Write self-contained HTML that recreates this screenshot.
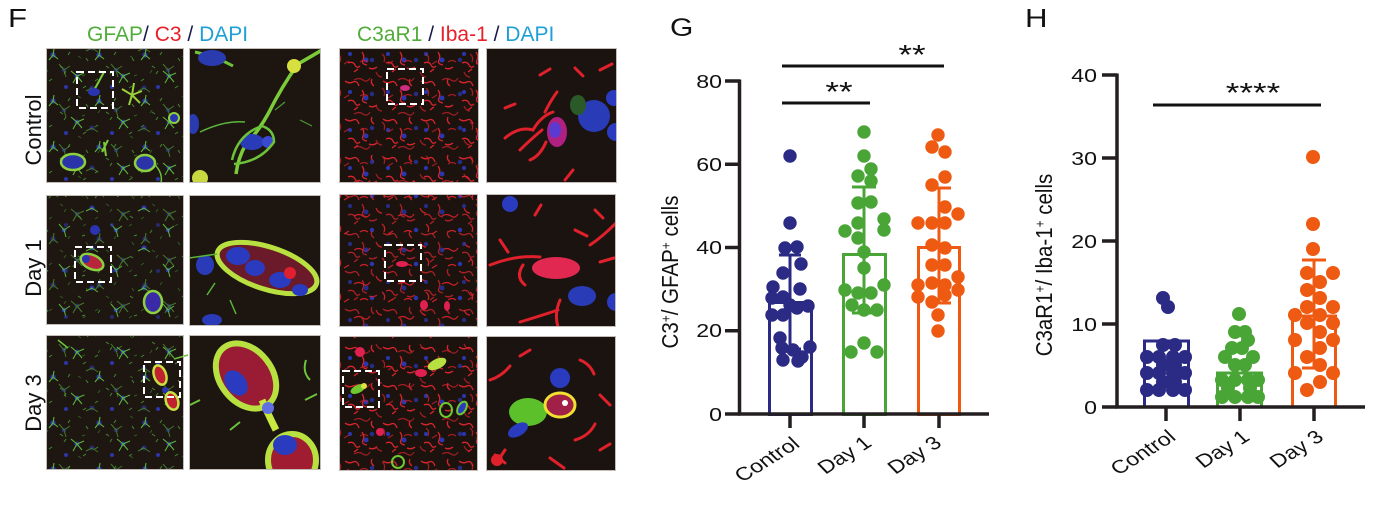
<!DOCTYPE html>
<html><head><meta charset="utf-8"><style>
html,body{margin:0;padding:0;background:#fff;}
svg{display:block;}
text{font-family:"Liberation Sans",Arial,sans-serif;}
</style></head><body>
<svg width="1382" height="506" viewBox="0 0 1382 506" xmlns="http://www.w3.org/2000/svg">
<defs>
<pattern id="astro" width="46" height="46" patternUnits="userSpaceOnUse">
<circle cx="7" cy="9" r="2.6" fill="#2c36a8"/><circle cx="31" cy="30" r="2.4" fill="#2c36a8"/><circle cx="20" cy="41" r="2" fill="#2c36a8"/>
<path d="M31 30 l-6 -5 M31 30 l7 -3 M31 30 l5 6 M31 30 l-4 7 M7 9 l5 4 M7 9 l-4 5 M7 9 l1 -6" stroke="#5ab53a" stroke-width="1.1" fill="none"/>
<path d="M14 20 l3 2 M40 12 l2 3 M24 6 l-2 3 M3 35 l3 -2 M40 40 l-3 2 M18 28 l2 -3" stroke="#3f8a32" stroke-width="1" fill="none"/>
</pattern>
<pattern id="astro2" width="52" height="40" patternUnits="userSpaceOnUse">
<circle cx="40" cy="8" r="2.5" fill="#2c36a8"/><circle cx="12" cy="30" r="2.3" fill="#2c36a8"/>
<path d="M12 30 l-5 -6 M12 30 l6 -4 M12 30 l2 7 M40 8 l6 4 M40 8 l-6 3" stroke="#5ab53a" stroke-width="1" fill="none"/>
<path d="M26 16 l3 2 M48 30 l-2 3 M30 36 l3 -1" stroke="#3f8a32" stroke-width="1" fill="none"/>
</pattern>
<pattern id="micro" width="38" height="38" patternUnits="userSpaceOnUse">
<path d="M3 5 q4 3 8 1 t6 4 M20 14 q3 4 1 8 t4 5 M30 3 q-2 4 2 7 M6 25 q5 -2 7 2 t5 1 M27 30 q4 2 8 -1 M12 34 l4 -3" stroke="#d8242c" stroke-width="1.3" fill="none"/>
<circle cx="24" cy="22" r="2.5" fill="#2a36b0"/><circle cx="8" cy="16" r="2" fill="#2a36b0"/>
</pattern>
<pattern id="micro2" width="44" height="34" patternUnits="userSpaceOnUse">
<path d="M2 12 q5 -3 9 0 t7 -2 M24 4 q2 5 6 5 M30 20 q4 3 2 8 M8 28 q4 -3 8 0 M36 30 l5 -3" stroke="#cc2028" stroke-width="1.2" fill="none"/>
<circle cx="20" cy="26" r="2.2" fill="#2a36b0"/>
</pattern>
<clipPath id="c12"><rect x="189" y="48" width="132" height="135"/></clipPath>
<clipPath id="c22"><rect x="189" y="195" width="132" height="131"/></clipPath>
<clipPath id="c32"><rect x="189" y="335" width="132" height="135"/></clipPath>
<clipPath id="c14"><rect x="486" y="48" width="131" height="135"/></clipPath>
<clipPath id="c24"><rect x="486" y="194" width="130" height="133"/></clipPath>
<clipPath id="c34"><rect x="486" y="336" width="130" height="135"/></clipPath>
</defs>

<!-- Panel F labels -->
<text transform="translate(8,27) scale(1.2,1)" font-size="26" fill="#111">F</text>
<text x="87" y="41" font-size="21"><tspan fill="#52ac3a">GFAP</tspan><tspan fill="#1a1a4a">/ </tspan><tspan fill="#e8202a">C3</tspan><tspan fill="#1a1a4a"> / </tspan><tspan fill="#1ea0d6">DAPI</tspan></text>
<text x="357" y="41" font-size="21"><tspan fill="#52ac3a">C3aR1</tspan><tspan fill="#1a1a4a"> / </tspan><tspan fill="#e8202a">Iba-1</tspan><tspan fill="#1a1a4a"> / </tspan><tspan fill="#1ea0d6">DAPI</tspan></text>
<text transform="translate(41,130) rotate(-90)" text-anchor="middle" font-size="22" fill="#111">Control</text>
<text transform="translate(41,268) rotate(-90)" text-anchor="middle" font-size="22" fill="#111">Day 1</text>
<text transform="translate(41,403) rotate(-90)" text-anchor="middle" font-size="22" fill="#111">Day 3</text>

<!-- Column 1 panels -->
<g>
<rect x="46" y="48" width="138" height="135" fill="#1e1610"/>
<rect x="46" y="48" width="138" height="135" fill="url(#astro)"/>
<rect x="46" y="48" width="138" height="135" fill="url(#astro2)" opacity="0.6"/>
<rect x="46" y="195" width="138" height="130" fill="#1e1610"/>
<rect x="46" y="195" width="138" height="130" fill="url(#astro2)"/>
<rect x="46" y="195" width="138" height="130" fill="url(#astro)" opacity="0.6"/>
<rect x="46" y="335" width="138" height="135" fill="#1e1610"/>
<rect x="46" y="335" width="138" height="135" fill="url(#astro)"/>
<rect x="46" y="335" width="138" height="135" fill="url(#astro2)" opacity="0.6"/>
<ellipse cx="73" cy="162" rx="12" ry="8" fill="#2a34a8" stroke="#8cd040" stroke-width="2.5"/>
<ellipse cx="145" cy="163" rx="10" ry="8" fill="#2a34a8" stroke="#8cd040" stroke-width="2.5"/>
<path d="M155 165 q8 8 6 18" stroke="#6cc23a" stroke-width="1.5" fill="none"/>
<path d="M132 95 l-10 -6 M132 95 l10 -4 M132 95 l-3 10 M132 95 l8 8 M132 95 l2 -12" stroke="#9ad03a" stroke-width="2"/>
<path d="M92 94 l12 -22" stroke="#7ccc3a" stroke-width="2"/>
<ellipse cx="94" cy="92" rx="6" ry="4" fill="#2a34b0"/>
<circle cx="174" cy="118" r="5" fill="#2a34b0" stroke="#8cd040" stroke-width="2"/>
<path d="M104 142 l2 14 M108 140 l-6 12" stroke="#7ccc3a" stroke-width="2"/>
<ellipse cx="92" cy="262" rx="12" ry="7" fill="#b8243a" stroke="#8cd040" stroke-width="2.5" transform="rotate(25 92 262)"/>
<circle cx="86" cy="259" r="4" fill="#2a34b0"/>
<ellipse cx="153" cy="302" rx="9" ry="11" fill="#3a2aa8" stroke="#8cd040" stroke-width="2.5"/>
<circle cx="95" cy="230" r="5" fill="#2a34b0"/>
<ellipse cx="160" cy="375" rx="6" ry="10" fill="#c02030" stroke="#c8e040" stroke-width="2.5" transform="rotate(-20 160 375)"/>
<ellipse cx="172" cy="401" rx="6" ry="9" fill="#c02030" stroke="#c8e040" stroke-width="2.5" transform="rotate(-20 172 401)"/>
<circle cx="165" cy="390" r="3" fill="#2a34b0"/>
<path d="M188 355 l-14 4 M58 340 l10 8" stroke="#6cc23a" stroke-width="1.5"/>
<rect x="46.5" y="48.5" width="137" height="134" fill="none" stroke="#c4bcb6" stroke-width="1"/>
<rect x="46.5" y="195.5" width="137" height="129" fill="none" stroke="#c4bcb6" stroke-width="1"/>
<rect x="46.5" y="335.5" width="137" height="134" fill="none" stroke="#c4bcb6" stroke-width="1"/>
<g fill="none" stroke="#fff" stroke-width="2" stroke-dasharray="7 4">
<rect x="77" y="72" width="36" height="36"/>
<rect x="75" y="247" width="36" height="35"/>
<rect x="144" y="362" width="36" height="35"/>
</g>
</g>

<!-- Column 2 panels (zoom GFAP) -->
<g>
<rect x="189" y="48" width="132" height="135" fill="#1c1510"/>
<g clip-path="url(#c12)">
<path d="M195 52 q20 4 38 14" stroke="#70c43a" stroke-width="3" fill="none"/>
<ellipse cx="212" cy="58" rx="14" ry="8" fill="#2a3bb0"/>
<path d="M322 50 q-10 6 -24 14 q-16 22 -30 50 q-10 18 -22 30 q-8 14 -10 30" stroke="#7ccc3a" stroke-width="3.5" fill="none"/>
<circle cx="294" cy="66" r="7" fill="#d8e040"/>
<ellipse cx="252" cy="142" rx="12" ry="8" fill="#2a3bb8"/>
<circle cx="268" cy="142" r="6" fill="#3a4ad0"/>
<path d="M232 160 q6 -26 30 -34 q12 4 12 16 q-14 20 -40 22" stroke="#6cc23a" stroke-width="2.5" fill="none"/>
<path d="M245 122 q-20 -2 -45 10" stroke="#5ab53a" stroke-width="1.5" fill="none"/>
<circle cx="200" cy="178" r="8" fill="#c8d840"/>
<ellipse cx="193" cy="124" rx="6" ry="10" fill="#2a3bb0"/>
<path d="M275 110 l10 -8 M300 120 l12 6" stroke="#4a9a34" stroke-width="1.2"/>
</g>
<rect x="189" y="195" width="132" height="131" fill="#1c1510"/>
<g clip-path="url(#c22)">
<ellipse cx="267" cy="268" rx="52" ry="21" fill="#6a1a28" stroke="#b8e040" stroke-width="5" transform="rotate(18 267 268)"/>
<ellipse cx="238" cy="256" rx="12" ry="9" fill="#2a3bc0"/>
<ellipse cx="255" cy="268" rx="10" ry="8" fill="#2a3bc0"/>
<ellipse cx="280" cy="280" rx="11" ry="8" fill="#2a3bc0"/>
<ellipse cx="300" cy="290" rx="8" ry="6" fill="#2a3bc0"/>
<circle cx="290" cy="273" r="6" fill="#e02030"/>
<ellipse cx="205" cy="265" rx="9" ry="10" fill="#2a3bb8"/>
<ellipse cx="212" cy="320" rx="10" ry="6" fill="#2a3bb8"/>
<path d="M189 258 l28 -4 M215 283 l-8 12 M230 300 l6 14" stroke="#5ab53a" stroke-width="1.5"/>
</g>
<rect x="189" y="335" width="132" height="135" fill="#1c1510"/>
<g clip-path="url(#c32)">
<ellipse cx="246" cy="376" rx="26" ry="36" fill="#9a1c34" stroke="#b8e040" stroke-width="6" transform="rotate(-38 246 376)"/>
<ellipse cx="236" cy="383" rx="10" ry="14" fill="#2a3bc0" transform="rotate(-38 236 383)"/>
<path d="M262 400 q6 14 14 30" stroke="#c8e840" stroke-width="7" fill="none"/>
<circle cx="268" cy="408" r="6" fill="#6070e0"/>
<ellipse cx="292" cy="460" rx="24" ry="26" fill="#a01c30" stroke="#b8e040" stroke-width="6"/>
<ellipse cx="285" cy="445" rx="12" ry="10" fill="#2a3bc0"/>
<path d="M310 380 q-8 -8 -4 -20 M305 400 l12 -6 M200 400 l-10 5 M230 430 l10 -8" stroke="#6cc23a" stroke-width="2" fill="none"/>
</g>
<rect x="189.5" y="48.5" width="131" height="134" fill="none" stroke="#c4bcb6" stroke-width="1"/>
<rect x="189.5" y="195.5" width="131" height="130" fill="none" stroke="#c4bcb6" stroke-width="1"/>
<rect x="189.5" y="335.5" width="131" height="134" fill="none" stroke="#c4bcb6" stroke-width="1"/>
</g>

<!-- Column 3 panels -->
<g>
<rect x="339" y="48" width="140" height="135" fill="#1c130f"/>
<rect x="339" y="48" width="140" height="135" fill="url(#micro)"/>
<rect x="339" y="48" width="140" height="135" fill="url(#micro2)" opacity="0.75"/>
<rect x="339" y="194" width="139" height="133" fill="#1c130f"/>
<rect x="339" y="194" width="139" height="133" fill="url(#micro2)"/>
<rect x="339" y="194" width="139" height="133" fill="url(#micro)" opacity="0.75"/>
<rect x="339" y="336" width="139" height="135" fill="#1c130f"/>
<rect x="339" y="336" width="139" height="135" fill="url(#micro)"/>
<rect x="339" y="336" width="139" height="135" fill="url(#micro2)" opacity="0.75"/>
<ellipse cx="405" cy="88" rx="5" ry="3" fill="#d02c80"/>
<ellipse cx="402" cy="264" rx="6" ry="3" fill="#e02050"/>
<ellipse cx="424" cy="305" rx="4" ry="5" fill="#e02050"/>
<ellipse cx="447" cy="306" rx="3" ry="5" fill="#e02050"/>
<ellipse cx="437" cy="364" rx="10" ry="5" fill="#b8e040" transform="rotate(-25 437 364)"/>
<ellipse cx="421" cy="373" rx="6" ry="4" fill="#e02050"/>
<ellipse cx="358" cy="389" rx="8" ry="4" fill="#70c830" transform="rotate(-25 358 389)"/>
<circle cx="364" cy="386" r="3" fill="#e0e040"/>
<circle cx="360" cy="352" r="5" fill="#e02050"/>
<ellipse cx="446" cy="410" rx="6" ry="7" fill="none" stroke="#70c830" stroke-width="2"/>
<ellipse cx="462" cy="408" rx="4" ry="7" fill="#2a3bc0" stroke="#70c830" stroke-width="2" transform="rotate(30 462 408)"/>
<circle cx="398" cy="462" r="6" fill="none" stroke="#70c830" stroke-width="2"/>
<circle cx="380" cy="432" r="4" fill="#e02050"/>
<rect x="339.5" y="48.5" width="139" height="134" fill="none" stroke="#c4bcb6" stroke-width="1"/>
<rect x="339.5" y="194.5" width="138" height="132" fill="none" stroke="#c4bcb6" stroke-width="1"/>
<rect x="339.5" y="336.5" width="138" height="134" fill="none" stroke="#c4bcb6" stroke-width="1"/>
<g fill="none" stroke="#fff" stroke-width="2" stroke-dasharray="7 4">
<rect x="387" y="69" width="36" height="35"/>
<rect x="385" y="245" width="36" height="36"/>
<rect x="343" y="371" width="36" height="36"/>
</g>
</g>

<!-- Column 4 panels (zoom microglia) -->
<g>
<rect x="486" y="48" width="131" height="135" fill="#1b1310"/>
<g clip-path="url(#c14)" fill="none" stroke="#e0202a" stroke-linecap="round">
<path d="M505 138 q14 -12 28 -8 q8 -14 20 -18 M520 150 q10 -10 22 -20 M530 160 q10 -4 16 -18 M545 112 q6 -12 12 -20 M540 75 l10 -6 M575 68 l8 8 M600 70 l12 -6 M565 180 l8 -10 M505 108 l10 -4" stroke-width="3"/>
<ellipse cx="557" cy="132" rx="10" ry="15" fill="#b02080" stroke="none"/>
<ellipse cx="555" cy="130" rx="6" ry="8" fill="#5a3ad0" stroke="none"/>
<circle cx="594" cy="116" r="16" fill="#2a3bb8" stroke="none"/>
<circle cx="616" cy="132" r="9" fill="#2a3bc0" stroke="none"/>
<circle cx="614" cy="98" r="8" fill="#2a3bc0" stroke="none"/>
<ellipse cx="578" cy="105" rx="8" ry="10" fill="#2a5a28" stroke="none"/>
</g>
<rect x="486" y="194" width="130" height="133" fill="#1b1310"/>
<g clip-path="url(#c24)" fill="none" stroke="#e0202a" stroke-linecap="round">
<circle cx="510" cy="204" r="8" fill="#2a3bc0" stroke="none"/>
<ellipse cx="582" cy="296" rx="14" ry="10" fill="#2a3bb8" stroke="none"/>
<circle cx="616" cy="302" r="9" fill="#2a3bc0" stroke="none"/>
<ellipse cx="556" cy="268" rx="24" ry="11" fill="#e02850" stroke="none"/>
<path d="M490 265 q25 -10 50 -8 M525 285 q-10 -8 -2 -20 M590 245 q12 -8 26 -22 M520 322 q20 -6 38 -12 M560 300 q-6 14 -2 27 M575 230 l12 6 M535 215 l6 -10 M595 210 l8 8 M500 240 l8 12 M600 262 l14 -4" stroke-width="3"/>
</g>
<rect x="486" y="336" width="130" height="135" fill="#1b1310"/>
<g clip-path="url(#c34)" fill="none" stroke="#e0202a" stroke-linecap="round">
<circle cx="560" cy="378" r="10" fill="#2a3bc0" stroke="none"/>
<ellipse cx="528" cy="412" rx="19" ry="14" fill="#5cc02a" stroke="none"/>
<ellipse cx="560" cy="405" rx="15" ry="12" fill="#a02048" stroke="#f0e030" stroke-width="3"/>
<circle cx="565" cy="403" r="3" fill="#fff" stroke="none"/>
<ellipse cx="518" cy="430" rx="11" ry="6" fill="#2a3bc0" stroke="none" transform="rotate(-30 518 430)"/>
<path d="M490 380 q12 -4 20 -14 M580 360 q10 4 14 14 M600 395 l10 10 M575 440 q14 -4 20 -16 M495 455 l10 8 M505 450 l-8 12 M550 458 l14 10 M600 450 l10 -6 M520 356 l10 -6" stroke-width="3"/>
<circle cx="497" cy="460" r="6" fill="#e0202a" stroke="none"/>
</g>
<rect x="486.5" y="48.5" width="130" height="134" fill="none" stroke="#c4bcb6" stroke-width="1"/>
<rect x="486.5" y="194.5" width="129" height="132" fill="none" stroke="#c4bcb6" stroke-width="1"/>
<rect x="486.5" y="336.5" width="129" height="134" fill="none" stroke="#c4bcb6" stroke-width="1"/>
</g>

<!-- ===== Chart G ===== -->
<text transform="translate(670,36) scale(1.2,1)" font-size="25" fill="#111">G</text>
<g fill="#111" font-size="18.5" text-anchor="end">
<text transform="translate(722,88) scale(1.25,1)">80</text>
<text transform="translate(722,171) scale(1.25,1)">60</text>
<text transform="translate(722,254) scale(1.25,1)">40</text>
<text transform="translate(722,337) scale(1.25,1)">20</text>
<text transform="translate(722,421) scale(1.25,1)">0</text>
</g>
<text transform="translate(678,272) scale(1.12,1) rotate(-90)" text-anchor="middle" font-size="20.5" fill="#111">C3<tspan baseline-shift="super" font-size="12">+</tspan>/ GFAP<tspan baseline-shift="super" font-size="12">+</tspan> cells</text>
<g fill="#fff" stroke-width="3">
<rect x="769.5" y="302.5" width="42" height="112" stroke="#2b2a84"/>
<rect x="843.5" y="254.5" width="42" height="160" stroke="#4aa537"/>
<rect x="918.5" y="247.5" width="41" height="167" stroke="#ee5a12"/>
</g>
<g stroke-width="3">
<path d="M790 255 V349 M779 255 H801 M779 349 H801" stroke="#2b2a84"/>
<path d="M864 187 V313 M852 187 H876 M852 313 H876" stroke="#4aa537"/>
<path d="M939 188 V303 M927 188 H951 M927 303 H951" stroke="#ee5a12"/>
</g>
<g fill="#2b2a84">
<circle cx="790" cy="156" r="6.7"/><circle cx="790" cy="223" r="6.7"/><circle cx="785" cy="248" r="6.7"/><circle cx="797" cy="247" r="6.7"/><circle cx="801" cy="264" r="6.7"/><circle cx="783" cy="273" r="6.7"/><circle cx="773" cy="287" r="6.7"/><circle cx="800" cy="289" r="6.7"/><circle cx="772" cy="298" r="6.7"/><circle cx="783" cy="297" r="6.7"/><circle cx="808" cy="306" r="6.7"/><circle cx="797" cy="308" r="6.7"/><circle cx="772" cy="315" r="6.7"/><circle cx="783" cy="315" r="6.7"/><circle cx="790" cy="305" r="6.7"/><circle cx="780" cy="338" r="6.7"/><circle cx="782" cy="348" r="6.7"/><circle cx="793" cy="350" r="6.7"/><circle cx="810" cy="347" r="6.7"/><circle cx="802" cy="357" r="6.7"/><circle cx="783" cy="360" r="6.7"/><circle cx="798" cy="361" r="6.7"/>
</g>
<g fill="#4aa537">
<circle cx="864" cy="132" r="6.7"/><circle cx="864" cy="156" r="6.7"/><circle cx="871" cy="169" r="6.7"/><circle cx="858" cy="176" r="6.7"/><circle cx="871" cy="181" r="6.7"/><circle cx="858" cy="203" r="6.7"/><circle cx="871" cy="202" r="6.7"/><circle cx="858" cy="223" r="6.7"/><circle cx="884" cy="219" r="6.7"/><circle cx="884" cy="230" r="6.7"/><circle cx="845" cy="231" r="6.7"/><circle cx="858" cy="238" r="6.7"/><circle cx="864" cy="252" r="6.7"/><circle cx="864" cy="268" r="6.7"/><circle cx="845" cy="290" r="6.7"/><circle cx="884" cy="285" r="6.7"/><circle cx="858" cy="293" r="6.7"/><circle cx="871" cy="293" r="6.7"/><circle cx="852" cy="305" r="6.7"/><circle cx="864" cy="310" r="6.7"/><circle cx="877" cy="310" r="6.7"/><circle cx="864" cy="343" r="6.7"/><circle cx="851" cy="352" r="6.7"/><circle cx="877" cy="352" r="6.7"/>
</g>
<g fill="#ee5a12">
<circle cx="938" cy="135" r="6.7"/><circle cx="932" cy="147" r="6.7"/><circle cx="945" cy="152" r="6.7"/><circle cx="945" cy="177" r="6.7"/><circle cx="932" cy="185" r="6.7"/><circle cx="945" cy="207" r="6.7"/><circle cx="958" cy="214" r="6.7"/><circle cx="918" cy="223" r="6.7"/><circle cx="932" cy="223" r="6.7"/><circle cx="945" cy="223" r="6.7"/><circle cx="932" cy="245" r="6.7"/><circle cx="945" cy="248" r="6.7"/><circle cx="932" cy="265" r="6.7"/><circle cx="945" cy="265" r="6.7"/><circle cx="918" cy="285" r="6.7"/><circle cx="932" cy="283" r="6.7"/><circle cx="945" cy="285" r="6.7"/><circle cx="958" cy="277" r="6.7"/><circle cx="958" cy="290" r="6.7"/><circle cx="918" cy="297" r="6.7"/><circle cx="945" cy="295" r="6.7"/><circle cx="932" cy="302" r="6.7"/><circle cx="938" cy="315" r="6.7"/><circle cx="938" cy="331" r="6.7"/>
</g>
<g stroke="#231f20" stroke-width="3.5" fill="none">
<path d="M739.5 79.5 V415.5 M738 414 H989"/>
<path d="M725 81 H740 M725 164.25 H740 M725 247.5 H740 M725 330.75 H740 M725 414 H740"/>
<path d="M790 414 V428 M864 414 V428 M939 414 V428"/>
</g>
<g stroke="#111" stroke-width="3">
<path d="M782 66 H944 M782 103 H870"/>
</g>
<g fill="#111" font-size="28" text-anchor="middle">
<text transform="translate(912,64) scale(1.25,1)">**</text>
<text transform="translate(839,101) scale(1.25,1)">**</text>
</g>
<g fill="#111" font-size="18.5" text-anchor="end">
<text transform="translate(801,446) scale(1.25,1) rotate(-38)">Control</text>
<text transform="translate(873,445) scale(1.25,1) rotate(-38)">Day 1</text>
<text transform="translate(943,445) scale(1.25,1) rotate(-38)">Day 3</text>
</g>

<!-- ===== Chart H ===== -->
<text transform="translate(1025,27) scale(1.2,1)" font-size="26" fill="#111">H</text>
<g fill="#111" font-size="18.5" text-anchor="end">
<text transform="translate(1097,82) scale(1.25,1)">40</text>
<text transform="translate(1097,165) scale(1.25,1)">30</text>
<text transform="translate(1097,248) scale(1.25,1)">20</text>
<text transform="translate(1097,331) scale(1.25,1)">10</text>
<text transform="translate(1097,414) scale(1.25,1)">0</text>
</g>
<text transform="translate(1052,265) scale(1.12,1) rotate(-90)" text-anchor="middle" font-size="20.5" fill="#111">C3aR1<tspan baseline-shift="super" font-size="12">+</tspan>/ Iba-1<tspan baseline-shift="super" font-size="12">+</tspan> cells</text>
<g fill="#fff" stroke-width="3">
<rect x="1144.5" y="341" width="44" height="66" stroke="#2b2a84"/>
<rect x="1217.5" y="373" width="44" height="34" stroke="#4aa537"/>
<rect x="1292.5" y="316" width="43" height="91" stroke="#ee5a12"/>
</g>
<g stroke-width="3">
<path d="M1314 260 V368 M1302 260 H1326 M1302 368 H1326" stroke="#ee5a12"/>
</g>
<g fill="#2b2a84">
<circle cx="1163" cy="298" r="7"/><circle cx="1168" cy="307" r="7"/>
<circle cx="1163" cy="345" r="7"/><circle cx="1175" cy="345" r="7"/>
<circle cx="1147" cy="357" r="7"/><circle cx="1159" cy="357" r="7"/><circle cx="1173" cy="357" r="7"/><circle cx="1185" cy="357" r="7"/>
<circle cx="1163" cy="365" r="7"/><circle cx="1175" cy="365" r="7"/>
<circle cx="1147" cy="373" r="7"/><circle cx="1159" cy="373" r="7"/><circle cx="1173" cy="373" r="7"/><circle cx="1185" cy="373" r="7"/>
<circle cx="1163" cy="382" r="7"/><circle cx="1175" cy="382" r="7"/>
<circle cx="1147" cy="390" r="7"/><circle cx="1159" cy="390" r="7"/><circle cx="1173" cy="390" r="7"/><circle cx="1185" cy="390" r="7"/>
</g>
<g fill="#4aa537">
<circle cx="1239" cy="314" r="7"/><circle cx="1235" cy="332" r="7"/><circle cx="1245" cy="332" r="7"/><circle cx="1248" cy="340" r="7"/><circle cx="1232" cy="348" r="7"/><circle cx="1242" cy="348" r="7"/><circle cx="1225" cy="357" r="7"/><circle cx="1253" cy="357" r="7"/><circle cx="1235" cy="365" r="7"/><circle cx="1245" cy="365" r="7"/><circle cx="1222" cy="380" r="7"/><circle cx="1235" cy="380" r="7"/><circle cx="1248" cy="380" r="7"/><circle cx="1258" cy="380" r="7"/><circle cx="1228" cy="388" r="7"/><circle cx="1250" cy="388" r="7"/><circle cx="1222" cy="397" r="7"/><circle cx="1235" cy="397" r="7"/><circle cx="1248" cy="397" r="7"/><circle cx="1258" cy="397" r="7"/>
</g>
<g fill="#ee5a12">
<circle cx="1313" cy="157" r="7"/><circle cx="1313" cy="224" r="7"/><circle cx="1313" cy="249" r="7"/><circle cx="1307" cy="273" r="7"/><circle cx="1333" cy="273" r="7"/><circle cx="1320" cy="282" r="7"/><circle cx="1307" cy="290" r="7"/><circle cx="1320" cy="298" r="7"/><circle cx="1307" cy="307" r="7"/><circle cx="1333" cy="307" r="7"/><circle cx="1295" cy="315" r="7"/><circle cx="1320" cy="315" r="7"/><circle cx="1307" cy="323" r="7"/><circle cx="1333" cy="323" r="7"/><circle cx="1320" cy="332" r="7"/><circle cx="1295" cy="340" r="7"/><circle cx="1333" cy="340" r="7"/><circle cx="1320" cy="348" r="7"/><circle cx="1307" cy="357" r="7"/><circle cx="1320" cy="365" r="7"/><circle cx="1295" cy="373" r="7"/><circle cx="1333" cy="373" r="7"/><circle cx="1320" cy="382" r="7"/><circle cx="1307" cy="390" r="7"/>
</g>
<g stroke="#231f20" stroke-width="3.5" fill="none">
<path d="M1117 73.5 V408.5 M1115.5 407 H1365"/>
<path d="M1102 75 H1117 M1102 158 H1117 M1102 241 H1117 M1102 324 H1117 M1102 407 H1117"/>
<path d="M1166 407 V421 M1240 407 V421 M1314 407 V421"/>
</g>
<path d="M1153 105 H1321" stroke="#111" stroke-width="3"/>
<text transform="translate(1253,102) scale(1.25,1)" text-anchor="middle" font-size="28" fill="#111">****</text>
<g fill="#111" font-size="18.5" text-anchor="end">
<text transform="translate(1177,439) scale(1.25,1) rotate(-38)">Control</text>
<text transform="translate(1251,439) scale(1.25,1) rotate(-38)">Day 1</text>
<text transform="translate(1325,439) scale(1.25,1) rotate(-38)">Day 3</text>
</g>
</svg>
</body></html>
